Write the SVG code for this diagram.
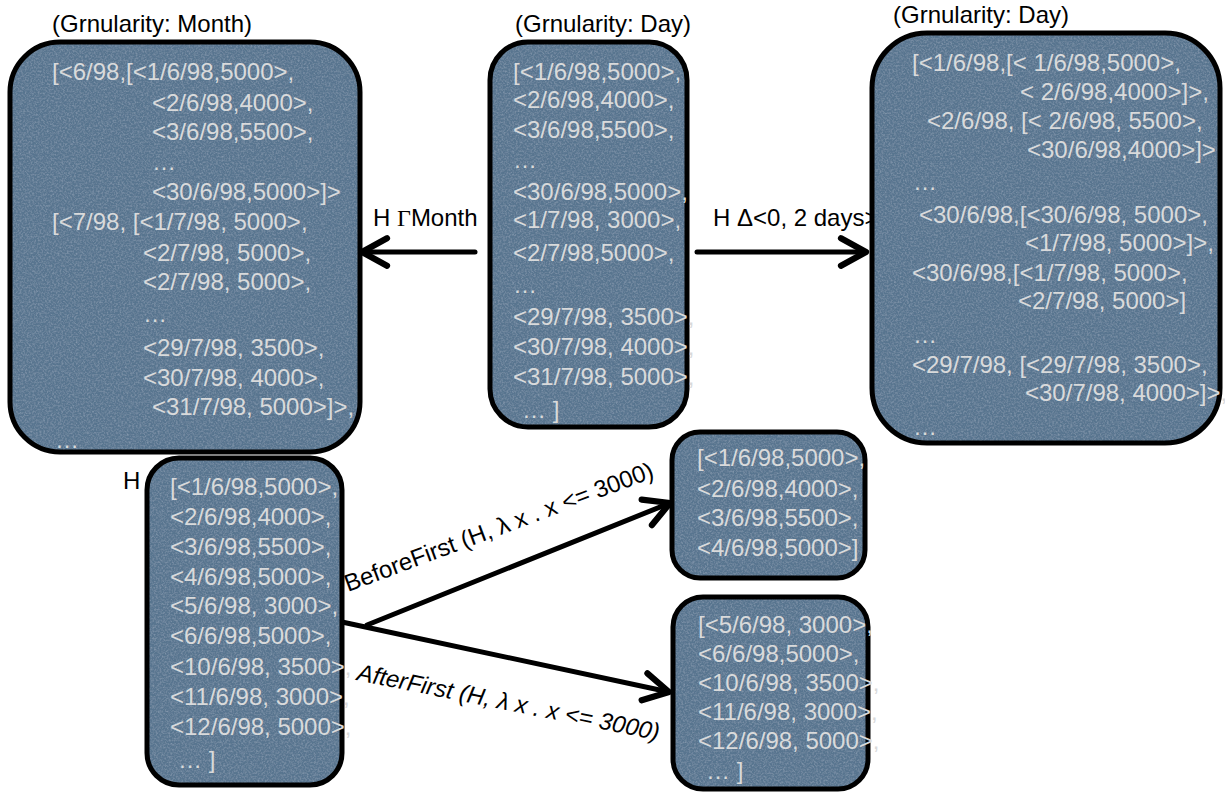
<svg xmlns="http://www.w3.org/2000/svg" width="1225" height="803" viewBox="0 0 1225 803">
  <style>
    .box { fill: none; stroke: #000; stroke-width: 5; }
    .fill { fill: #59758f; }
    .val { font-family: "Liberation Sans", Arial, sans-serif; font-size: 24px; fill: #d9dadb; }
    .cap { font-family: "Liberation Sans", Arial, sans-serif; font-size: 24px; fill: #000; }
    .lbl { font-family: "Liberation Sans", Arial, sans-serif; font-size: 24px; fill: #000; }
    .edge { stroke: #000; stroke-width: 5; fill: none; stroke-linecap: round; }
  </style>
  <defs>
    <!-- soft cloth-like speckle for the box fills -->
    <filter id="grain" x="0" y="0" width="100%" height="100%">
      <feTurbulence type="fractalNoise" baseFrequency="0.55" numOctaves="3" seed="7" result="noise"/>
      <feColorMatrix in="noise" type="matrix" values="0 0 0 0 0.50  0 0 0 0 0.60  0 0 0 0 0.72  0.6 0 0 0 -0.24" result="speck"/>
      <feComposite in="speck" in2="SourceGraphic" operator="in" result="clipped"/>
      <feMerge><feMergeNode in="SourceGraphic"/><feMergeNode in="clipped"/></feMerge>
    </filter>
    <marker id="chev" markerUnits="userSpaceOnUse" orient="auto" markerWidth="40" markerHeight="40" refX="0" refY="0" viewBox="-26 -16 32 32" overflow="visible">
      <path d="M -20 -11 L 0 0 L -20 11" fill="none" stroke="#000" stroke-width="5" stroke-linecap="round" stroke-linejoin="round"/>
    </marker>
  </defs>

  <rect width="1225" height="803" fill="#fff"/>

  <!-- connectors -->
  <g id="connectors">
    <line class="edge" x1="475" y1="252" x2="362" y2="252" marker-end="url(#chev)"/>
    <text class="lbl" x="373" y="226">H <tspan font-family="Liberation Serif, serif">Γ</tspan>Month</text>

    <line class="edge" x1="697" y1="252" x2="866" y2="252" marker-end="url(#chev)"/>
    <text class="lbl" x="713" y="226">H Δ&lt;0, 2 days&gt;</text>

    <line class="edge" x1="367" y1="625" x2="670" y2="503" marker-end="url(#chev)"/>
    <text class="lbl" font-size="25" transform="translate(348 592) rotate(-20.5)">BeforeFirst (H, λ x . x &lt;= 3000)</text>

    <line class="edge" x1="342" y1="622" x2="669" y2="692" marker-end="url(#chev)"/>
    <text class="lbl" font-size="25" font-style="italic" transform="translate(356 680) rotate(11.3)">AfterFirst (H, λ x . x &lt;= 3000)</text>
  </g>

  <!-- monthly grouping -->
  <g id="month">
    <text class="cap" x="52" y="32">(Grnularity: Month)</text>
    <rect class="fill" filter="url(#grain)" x="10" y="42" width="350" height="410" rx="50"/>
    <rect class="box" x="10" y="42" width="350" height="410" rx="50"/>
    <text class="val" x="52" y="80">[&lt;6/98,[&lt;1/6/98,5000&gt;,</text>
    <text class="val" x="152" y="111">&lt;2/6/98,4000&gt;,</text>
    <text class="val" x="152" y="140">&lt;3/6/98,5500&gt;,</text>
    <text class="val" x="152" y="170">…</text>
    <text class="val" x="152" y="200">&lt;30/6/98,5000&gt;]&gt;</text>
    <text class="val" x="52" y="230">[&lt;7/98, [&lt;1/7/98, 5000&gt;,</text>
    <text class="val" x="143" y="261">&lt;2/7/98, 5000&gt;,</text>
    <text class="val" x="143" y="290">&lt;2/7/98, 5000&gt;,</text>
    <text class="val" x="143" y="322">…</text>
    <text class="val" x="143" y="356">&lt;29/7/98, 3500&gt;,</text>
    <text class="val" x="143" y="386">&lt;30/7/98, 4000&gt;,</text>
    <text class="val" x="152" y="415">&lt;31/7/98, 5000&gt;]&gt;,</text>
    <text class="val" x="55" y="448">…</text>
  </g>

  <!-- daily series -->
  <g id="day">
    <text class="cap" x="515" y="32">(Grnularity: Day)</text>
    <rect class="fill" filter="url(#grain)" x="490" y="42" width="197" height="385" rx="38"/>
    <rect class="box" x="490" y="42" width="197" height="385" rx="38"/>
    <text class="val" x="513" y="80">[&lt;1/6/98,5000&gt;,</text>
    <text class="val" x="513" y="108">&lt;2/6/98,4000&gt;,</text>
    <text class="val" x="513" y="138">&lt;3/6/98,5500&gt;,</text>
    <text class="val" x="513" y="168">…</text>
    <text class="val" x="513" y="200">&lt;30/6/98,5000&gt;,</text>
    <text class="val" x="513" y="228">&lt;1/7/98, 3000&gt;,</text>
    <text class="val" x="513" y="261">&lt;2/7/98,5000&gt;,</text>
    <text class="val" x="513" y="293">…</text>
    <text class="val" x="513" y="325">&lt;29/7/98, 3500&gt;,</text>
    <text class="val" x="513" y="355">&lt;30/7/98, 4000&gt;,</text>
    <text class="val" x="513" y="385">&lt;31/7/98, 5000&gt;,</text>
    <text class="val" x="522" y="418">… ]</text>
  </g>

  <!-- two-day windows -->
  <g id="window">
    <text class="cap" x="893" y="23">(Grnularity: Day)</text>
    <rect class="fill" filter="url(#grain)" x="872" y="33" width="348" height="410" rx="55"/>
    <rect class="box" x="872" y="33" width="348" height="410" rx="55"/>
    <text class="val" x="912" y="71">[&lt;1/6/98,[&lt; 1/6/98,5000&gt;,</text>
    <text class="val" x="1020" y="100">&lt; 2/6/98,4000&gt;]&gt;,</text>
    <text class="val" x="927" y="129">&lt;2/6/98, [&lt; 2/6/98, 5500&gt;,</text>
    <text class="val" x="1027" y="158">&lt;30/6/98,4000&gt;]&gt;</text>
    <text class="val" x="913" y="190">…</text>
    <text class="val" x="919" y="223">&lt;30/6/98,[&lt;30/6/98, 5000&gt;,</text>
    <text class="val" x="1025" y="251">&lt;1/7/98, 5000&gt;]&gt;,</text>
    <text class="val" x="912" y="281">&lt;30/6/98,[&lt;1/7/98, 5000&gt;,</text>
    <text class="val" x="1018" y="309">&lt;2/7/98, 5000&gt;]</text>
    <text class="val" x="913" y="343">…</text>
    <text class="val" x="912" y="373">&lt;29/7/98, [&lt;29/7/98, 3500&gt;,</text>
    <text class="val" x="1025" y="401">&lt;30/7/98, 4000&gt;]&gt;,</text>
    <text class="val" x="913" y="435">…</text>
  </g>

  <!-- input series H -->
  <g id="h">
    <text class="cap" x="123" y="489">H</text>
    <rect class="fill" filter="url(#grain)" x="147" y="458" width="195" height="327" rx="32"/>
    <rect class="box" x="147" y="458" width="195" height="327" rx="32"/>
    <text class="val" x="170" y="495">[&lt;1/6/98,5000&gt;,</text>
    <text class="val" x="170" y="525">&lt;2/6/98,4000&gt;,</text>
    <text class="val" x="170" y="555">&lt;3/6/98,5500&gt;,</text>
    <text class="val" x="170" y="585">&lt;4/6/98,5000&gt;,</text>
    <text class="val" x="170" y="614">&lt;5/6/98, 3000&gt;,</text>
    <text class="val" x="170" y="644">&lt;6/6/98,5000&gt;,</text>
    <text class="val" x="170" y="675">&lt;10/6/98, 3500&gt;,</text>
    <text class="val" x="170" y="705">&lt;11/6/98, 3000&gt;,</text>
    <text class="val" x="170" y="735">&lt;12/6/98, 5000&gt;,</text>
    <text class="val" x="178" y="768">… ]</text>
  </g>

  <!-- prefix before first match -->
  <g id="before">
    <rect class="fill" filter="url(#grain)" x="672" y="432" width="193" height="146" rx="28"/>
    <rect class="box" x="672" y="432" width="193" height="146" rx="28"/>
    <text class="val" x="697" y="466">[&lt;1/6/98,5000&gt;,</text>
    <text class="val" x="697" y="497">&lt;2/6/98,4000&gt;,</text>
    <text class="val" x="697" y="526">&lt;3/6/98,5500&gt;,</text>
    <text class="val" x="697" y="556">&lt;4/6/98,5000&gt;]</text>
  </g>

  <!-- suffix from first match -->
  <g id="after">
    <rect class="fill" filter="url(#grain)" x="673" y="597" width="195" height="192" rx="30"/>
    <rect class="box" x="673" y="597" width="195" height="192" rx="30"/>
    <text class="val" x="698" y="633">[&lt;5/6/98, 3000&gt;,</text>
    <text class="val" x="698" y="662">&lt;6/6/98,5000&gt;,</text>
    <text class="val" x="698" y="691">&lt;10/6/98, 3500&gt;,</text>
    <text class="val" x="698" y="720">&lt;11/6/98, 3000&gt;,</text>
    <text class="val" x="698" y="749">&lt;12/6/98, 5000&gt;,</text>
    <text class="val" x="706" y="779">… ]</text>
  </g>
</svg>
